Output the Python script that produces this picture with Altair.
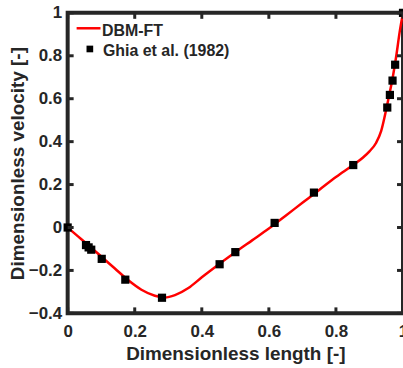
import altair as alt
import pandas as pd

# Numerical solution (DBM-FT): u-velocity along the vertical centreline
curve_x = [0, 0.03, 0.06, 0.1, 0.14, 0.18, 0.22, 0.26, 0.29, 0.32, 0.36, 0.4,
           0.45, 0.5, 0.55, 0.6, 0.65, 0.7, 0.75, 0.8, 0.85, 0.88, 0.9, 0.92,
           0.935, 0.95, 0.96, 0.97, 0.98, 0.99, 1.0]
curve_u = [0, -0.04, -0.08, -0.135, -0.19, -0.245, -0.29, -0.318, -0.326, -0.315,
           -0.282, -0.232, -0.172, -0.115, -0.06, -0.005, 0.055, 0.115, 0.175,
           0.235, 0.29, 0.325, 0.355, 0.395, 0.45, 0.55, 0.625, 0.705, 0.8,
           0.91, 1.0]

# Benchmark data, Ghia et al. (1982)
ghia_x = [0.0, 0.0547, 0.0625, 0.0703, 0.1016, 0.1719, 0.2813, 0.4531, 0.5,
          0.6172, 0.7344, 0.8516, 0.9531, 0.9609, 0.9688, 0.9766, 1.0]
ghia_u = [0.0, -0.08186, -0.09266, -0.10338, -0.14612, -0.24299, -0.32726,
          -0.17119, -0.11477, 0.02135, 0.16256, 0.29093, 0.55892, 0.61756,
          0.68439, 0.75837, 1.0]

x_ticks = [0, 0.2, 0.4, 0.6, 0.8, 1.0]
y_ticks = [-0.4, -0.2, 0, 0.2, 0.4, 0.6, 0.8, 1.0]

legend_labels = ["DBM-FT", "Ghia et al. (1982)"]

W, H = 337, 302
INK = "#262626"
FONT = "Liberation Sans"

curve = pd.DataFrame({"x": curve_x, "u": curve_u})
ghia = pd.DataFrame({"x": ghia_x, "u": ghia_u})
xt = pd.DataFrame({"v": x_ticks})
yt = pd.DataFrame({"v": y_ticks})

xs = alt.Scale(domain=[0, 1], nice=False, zero=False)
ys = alt.Scale(domain=[-0.4, 1], nice=False, zero=False)

x_axis = alt.Axis(values=x_ticks, format="~g", title="Dimensionless length [-]",
                  ticks=False, domain=False, grid=False, labelFlush=False,
                  labelPadding=10, titlePadding=5)
y_axis = alt.Axis(values=y_ticks, format="~g", title="Dimensionless velocity [-]",
                  ticks=False, domain=False, grid=False, labelFlush=False,
                  labelPadding=6, titlePadding=1)

line = alt.Chart(curve).mark_line(color="#ff0000", strokeWidth=2.5,
                                  interpolate="monotone").encode(
    x=alt.X("x:Q", scale=xs, axis=x_axis),
    y=alt.Y("u:Q", scale=ys, axis=y_axis),
)

pts = alt.Chart(ghia).mark_point(shape="square", filled=True, color="black",
                                 size=68, opacity=1).encode(
    x=alt.X("x:Q", scale=xs),
    y=alt.Y("u:Q", scale=ys),
)

# inward tick marks on all four sides of the box
tick_style = dict(color=INK, strokeWidth=3)
bottom_ticks = alt.Chart(xt).mark_rule(**tick_style).encode(
    x=alt.X("v:Q", scale=xs), y=alt.value(H), y2=alt.value(H - 6))
top_ticks = alt.Chart(xt).mark_rule(**tick_style).encode(
    x=alt.X("v:Q", scale=xs), y=alt.value(0), y2=alt.value(6))
left_ticks = alt.Chart(yt).mark_rule(**tick_style).encode(
    y=alt.Y("v:Q", scale=ys), x=alt.value(0), x2=alt.value(6))
right_ticks = alt.Chart(yt).mark_rule(**tick_style).encode(
    y=alt.Y("v:Q", scale=ys), x=alt.value(W), x2=alt.value(W - 6))

# legend in the upper-left corner
leg_df = pd.DataFrame({"label": legend_labels})
leg_line = alt.Chart(leg_df.iloc[[0]]).mark_rule(color="#ff0000", strokeWidth=2.5).encode(
    x=alt.value(9), x2=alt.value(33), y=alt.value(15.5))
leg_sq = alt.Chart(leg_df.iloc[[1]]).mark_point(shape="square", filled=True,
                                               color="black", size=45, opacity=1).encode(
    x=alt.value(22.3), y=alt.value(36.3))
leg_text = dict(align="left", baseline="alphabetic", font=FONT, fontWeight="bold",
                fontSize=16, color=INK)
leg_t1 = alt.Chart(leg_df.iloc[[0]]).mark_text(**leg_text).encode(
    x=alt.value(34.5), y=alt.value(23), text="label:N")
leg_t2 = alt.Chart(leg_df.iloc[[1]]).mark_text(**leg_text).encode(
    x=alt.value(35.5), y=alt.value(43), text="label:N")

chart = alt.layer(
    line, pts, bottom_ticks, top_ticks, left_ticks, right_ticks,
    leg_line, leg_sq, leg_t1, leg_t2,
).properties(
    width=W, height=H,
    autosize=alt.AutoSizeParams(type="none"),
    padding={"left": 68, "top": 12, "right": 0, "bottom": 54},
).configure(
    background="white",
).configure_view(
    stroke=INK, strokeWidth=4,
).configure_axis(
    labelFont=FONT, labelFontSize=17, labelFontWeight="bold", labelColor=INK,
    titleFont=FONT, titleFontSize=19, titleFontWeight="bold", titleColor=INK,
)

chart.save("out.html", embed_options={"renderer": "svg", "actions": False})
